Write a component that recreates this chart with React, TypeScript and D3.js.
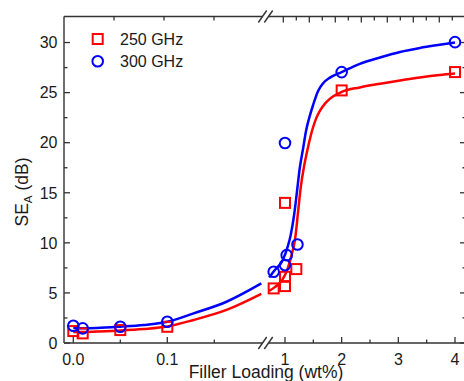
import { useEffect, useRef } from 'react';
import * as d3 from 'd3';

// measured points (filler loading wt%, SE_A dB)
const load250 = [0, 0.01, 0.05, 0.1, 0.8, 1.0, 1.0, 1.0, 1.2, 2, 4];
const se250 = [1.19, 0.96, 1.29, 1.62, 5.45, 5.68, 6.61, 13.99, 7.38, 25.22, 27.05];
const load300 = [0, 0.01, 0.05, 0.1, 0.8, 1.0, 1.03, 1.0, 1.22, 2, 4];
const se300 = [1.72, 1.46, 1.62, 2.12, 7.11, 7.78, 8.77, 19.97, 9.84, 27.05, 30.04];

// fitted curves, low-loading segment
const fitLowX = [0, 0.01, 0.025, 0.05, 0.075, 0.1, 0.128, 0.163, 0.2];
const fitLow250 = [1.1, 1.1, 1.15, 1.25, 1.4, 1.65, 2.3, 3.3, 4.9];
const fitLow300 = [1.5, 1.47, 1.5, 1.63, 1.8, 2.12, 2.96, 4.12, 5.95];

// fitted curves, high-loading segment
const fitHighX300 = [0.72, 0.82, 0.96, 1.05, 1.1, 1.16, 1.21, 1.26, 1.32, 1.37, 1.44, 1.5, 1.58, 1.67, 1.8, 2.0, 2.32, 2.68, 3.03, 3.38, 3.73, 4.0];
const fitHigh300 = [6.55, 7.28, 8.27, 9.67, 10.77, 12.76, 15.05, 17.45, 19.44, 21.14, 22.73, 23.83, 25.12, 25.92, 26.52, 27.05, 27.87, 28.51, 29.06, 29.46, 29.78, 30.01];
const fitHighX250 = [0.72, 0.82, 0.95, 1.05, 1.12, 1.18, 1.23, 1.28, 1.34, 1.41, 1.48, 1.55, 1.62, 1.71, 1.79, 2.0, 2.32, 2.68, 3.03, 3.38, 3.73, 4.0];
const fitHigh250 = [5.2, 5.58, 6.28, 7.48, 8.87, 10.47, 13.06, 15.65, 17.75, 19.64, 21.24, 22.43, 23.23, 23.93, 24.38, 25.07, 25.52, 25.89, 26.22, 26.52, 26.77, 26.92];

const yMajor = [0, 5, 10, 15, 20, 25, 30];
const yMinor = [2.5, 7.5, 12.5, 17.5, 22.5, 27.5];
const xLowMajor = [0, 0.1];
const xLowMinor = [0.05, 0.15];
const xHighMajor = [1, 2, 3, 4];
const xHighMinor = [1.5, 2.5, 3.5];
const topLowTicks = [0.05, 0.1, 0.15];
const topHighTicks = d3.range(0, 7, 0.5);

const series = [
  { name: '250 GHz', color: '#ff0000', shape: 'square', x: load250, y: se250, fx: fitLowX, fy: fitLow250, hx: fitHighX250, hy: fitHigh250 },
  { name: '300 GHz', color: '#0000ff', shape: 'circle', x: load300, y: se300, fx: fitLowX, fy: fitLow300, hx: fitHighX300, hy: fitHigh300 },
];

const FONT = 'Liberation Sans, Arial, Helvetica, sans-serif';

export default function App() {
  const svgRef = useRef<SVGSVGElement>(null);

  useEffect(() => {
    if (!svgRef.current) return;
    const svg = d3.select(svgRef.current);
    svg.selectAll('*').remove();

    const left = 64;
    const right = 466;
    const top = 16.5;
    const bottom = 343;
    const breakL = 262.5;
    const breakR = 268.5;
    const axisColor = '#333';

    const y = d3.scaleLinear().domain([0, 32.6]).range([bottom, top]);
    const xLow = d3.scaleLinear().domain([0, 0.2]).range([73.3, 261.3]);
    const xHigh = d3.scaleLinear().domain([1, 4]).range([285, 455]);
    const xTopLow = d3.scaleLinear().domain([0, 0.2]).range([left, 264]);
    const xTopHigh = d3.scaleLinear().domain([0, 7]).range([283.3, 465.3]);
    const xOf = (v: number) => (v <= 0.2 ? xLow(v) : xHigh(v));

    // frame lines (broken on top and bottom)
    const frame = svg.append('g').attr('stroke', axisColor).attr('stroke-width', 1.4);
    frame.append('line').attr('x1', left).attr('x2', left).attr('y1', top).attr('y2', bottom);
    frame.append('line').attr('x1', right).attr('x2', right).attr('y1', top).attr('y2', bottom);
    [bottom, top].forEach((yy) => {
      frame.append('line').attr('x1', left).attr('x2', breakL).attr('y1', yy).attr('y2', yy);
      frame.append('line').attr('x1', breakR).attr('x2', right).attr('y1', yy).attr('y2', yy);
      [breakL, breakR].forEach((bx) => {
        frame.append('line')
          .attr('x1', bx - 4.2).attr('y1', yy + 6)
          .attr('x2', bx + 4.2).attr('y2', yy - 6);
      });
    });

    const tickLines = (g: any, data: number[], pos: (v: number) => number, len: number, dir: string, base: number) => {
      g.selectAll(null)
        .data(data)
        .join('line')
        .attr('stroke', axisColor)
        .attr('stroke-width', 1.3)
        .attr('x1', (d: number) => (dir === 'h' ? pos(d) : base))
        .attr('x2', (d: number) => (dir === 'h' ? pos(d) : base + len))
        .attr('y1', (d: number) => (dir === 'h' ? base : pos(d)))
        .attr('y2', (d: number) => (dir === 'h' ? base - len : pos(d)));
    };

    const ticks = svg.append('g');
    // bottom
    tickLines(ticks, xLowMajor, xLow, 6, 'h', bottom);
    tickLines(ticks, xLowMinor, xLow, 3.5, 'h', bottom);
    tickLines(ticks, xHighMajor, xHigh, 6, 'h', bottom);
    tickLines(ticks, xHighMinor, xHigh, 3.5, 'h', bottom);
    // top
    tickLines(ticks, topLowTicks, xTopLow, -4, 'h', top);
    tickLines(ticks, topHighTicks, xTopHigh, -4, 'h', top);
    ticks.selectAll('line')
      .filter((d: any) => topHighTicks.includes(d) && Number.isInteger(d))
      .attr('y2', function (this: any) { return +d3.select(this).attr('y1') === top ? top + 6 : d3.select(this).attr('y2'); });
    // left / right
    tickLines(ticks, yMajor, y, 6, 'v', left);
    tickLines(ticks, yMinor, y, 3.5, 'v', left);
    tickLines(ticks, yMajor, y, -6, 'v', right);
    tickLines(ticks, yMinor, y, -3.5, 'v', right);

    // tick labels
    const labels = svg.append('g').attr('font-family', FONT).attr('font-size', 16).attr('fill', '#1a1a1a');
    labels.selectAll(null).data(yMajor).join('text')
      .attr('x', 57.5).attr('y', (d) => y(d)).attr('dy', '0.36em')
      .attr('text-anchor', 'end').text((d) => d);
    labels.selectAll(null).data(xLowMajor).join('text')
      .attr('x', (d) => xLow(d)).attr('y', 364.7)
      .attr('text-anchor', 'middle').text((d) => d3.format('.1f')(d));
    labels.selectAll(null).data(xHighMajor).join('text')
      .attr('x', (d) => xHigh(d)).attr('y', 364.7)
      .attr('text-anchor', 'middle').text((d) => d);

    // axis titles
    svg.append('text')
      .attr('x', 266).attr('y', 377.5)
      .attr('text-anchor', 'middle')
      .attr('font-family', FONT).attr('font-size', 17.5).attr('fill', '#1a1a1a')
      .text('Filler Loading (wt%)');

    const yTitle = svg.append('text')
      .attr('transform', 'translate(28,192) rotate(-90)')
      .attr('text-anchor', 'middle')
      .attr('font-family', FONT).attr('font-size', 17.5).attr('fill', '#1a1a1a');
    yTitle.append('tspan').text('SE');
    yTitle.append('tspan').attr('font-size', 11.5).attr('dy', 4).text('A');
    yTitle.append('tspan').attr('dy', -4).text(' (dB)');

    // fitted curves
    const line = d3.line<[number, number]>().curve(d3.curveMonotoneX);
    series.forEach((s) => {
      const low = s.fx.map((v, i) => [xLow(v), y(s.fy[i])] as [number, number]);
      const high = s.hx.map((v, i) => [xHigh(v), y(s.hy[i])] as [number, number]);
      [low, high].forEach((pts) => {
        svg.append('path')
          .attr('d', line(pts))
          .attr('fill', 'none')
          .attr('stroke', s.color)
          .attr('stroke-width', 2.5);
      });
    });

    // markers
    series.forEach((s) => {
      const g = svg.append('g').attr('fill', 'none').attr('stroke', s.color).attr('stroke-width', 2);
      const pts = s.x.map((v, i) => ({ x: xOf(v), y: y(s.y[i]) }));
      if (s.shape === 'square') {
        g.selectAll('rect').data(pts).join('rect')
          .attr('x', (d) => d.x - 5).attr('y', (d) => d.y - 5)
          .attr('width', 10).attr('height', 10);
      } else {
        g.selectAll('circle').data(pts).join('circle')
          .attr('cx', (d) => d.x).attr('cy', (d) => d.y).attr('r', 5.3);
      }
    });

    // legend
    const legend = svg.append('g').attr('font-family', FONT).attr('font-size', 16).attr('fill', '#1a1a1a');
    series.forEach((s, i) => {
      const cy = 39 + i * 22.3;
      if (s.shape === 'square') {
        legend.append('rect').attr('x', 92.7).attr('y', cy - 5).attr('width', 10).attr('height', 10)
          .attr('fill', 'none').attr('stroke', s.color).attr('stroke-width', 2);
      } else {
        legend.append('circle').attr('cx', 97.7).attr('cy', cy).attr('r', 5.3)
          .attr('fill', 'none').attr('stroke', s.color).attr('stroke-width', 2);
      }
      legend.append('text').attr('x', 120).attr('y', cy + 6).text(s.name);
    });
  }, []);

  return (
    <svg
      ref={svgRef}
      width={464}
      height={381}
      style={{ position: 'absolute', left: 0, top: 0, background: '#fff' }}
    />
  );
}
